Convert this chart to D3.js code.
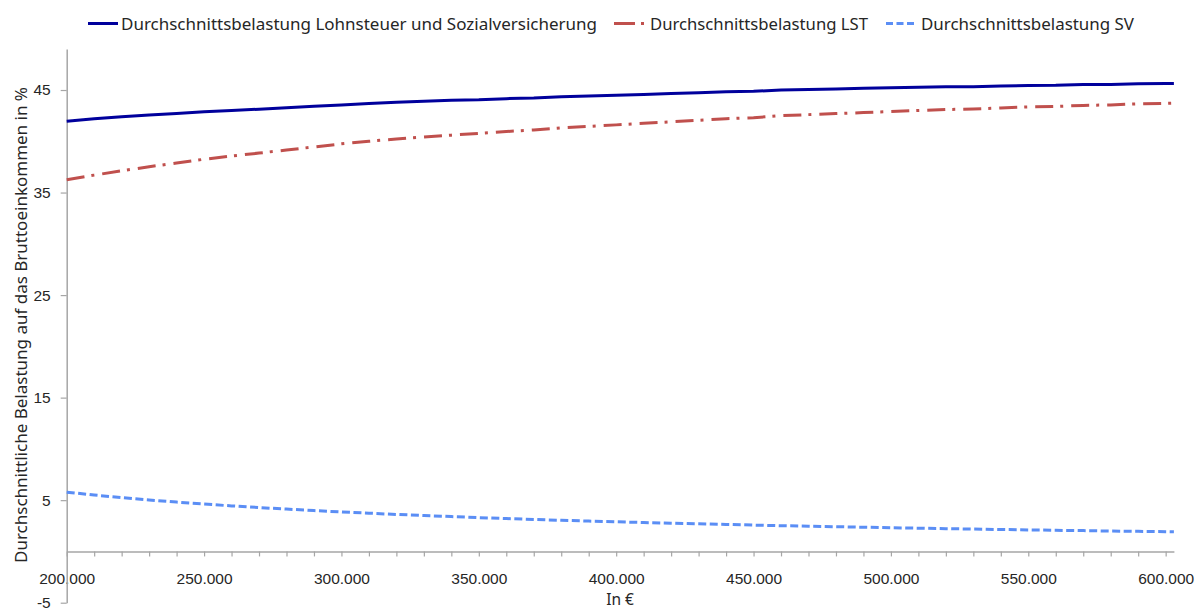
<!DOCTYPE html>
<html>
<head>
<meta charset="utf-8">
<script src="https://cdn.jsdelivr.net/npm/d3@7"></script>
<style>
  html, body { margin: 0; padding: 0; background: #fff; }
  svg { display: block; font-family: "Noto Sans", "DejaVu Sans", sans-serif; }
</style>
</head>
<body>
<svg id="chart" width="1200" height="609"></svg>
<script>
// Gross income (EUR)
const incomes = [200000, 210000, 220000, 230000, 240000, 250000, 260000, 270000, 280000, 290000,
  300000, 310000, 320000, 330000, 340000, 350000, 360000, 370000, 380000, 390000,
  400000, 410000, 420000, 430000, 440000, 450000, 460000, 470000, 480000, 490000,
  500000, 510000, 520000, 530000, 540000, 550000, 560000, 570000, 580000, 590000,
  600000, 603000];

// Average burden, wage tax plus social insurance (%)
const totalBurden = [41.95, 42.20, 42.40, 42.57, 42.71, 42.87, 43.00, 43.13, 43.28, 43.42,
  43.55, 43.68, 43.81, 43.90, 44.00, 44.05, 44.16, 44.22, 44.34, 44.41,
  44.49, 44.57, 44.65, 44.74, 44.83, 44.87, 45.01, 45.06, 45.11, 45.16,
  45.21, 45.27, 45.32, 45.33, 45.39, 45.45, 45.46, 45.53, 45.54, 45.61,
  45.63, 45.64];

// Average burden, wage tax only (%)
const lstBurden = [36.25, 36.70, 37.12, 37.52, 37.88, 38.25, 38.56, 38.85, 39.15, 39.45,
  39.75, 40.00, 40.22, 40.42, 40.60, 40.77, 40.95, 41.10, 41.30, 41.45,
  41.60, 41.75, 41.90, 42.05, 42.20, 42.30, 42.50, 42.60, 42.70, 42.80,
  42.90, 43.00, 43.10, 43.15, 43.25, 43.35, 43.40, 43.50, 43.55, 43.65,
  43.70, 43.72];

// Average burden, social insurance only (%)
const svBurden = [5.78, 5.50, 5.25, 5.02, 4.81, 4.62, 4.44, 4.28, 4.13, 3.98,
  3.85, 3.73, 3.61, 3.50, 3.40, 3.30, 3.21, 3.12, 3.04, 2.96,
  2.89, 2.82, 2.75, 2.69, 2.63, 2.57, 2.51, 2.46, 2.41, 2.36,
  2.31, 2.27, 2.22, 2.18, 2.14, 2.10, 2.06, 2.03, 1.99, 1.96,
  1.93, 1.92];

const xTickValues = [200000, 210000, 220000, 230000, 240000, 250000, 260000, 270000, 280000, 290000,
  300000, 310000, 320000, 330000, 340000, 350000, 360000, 370000, 380000, 390000,
  400000, 410000, 420000, 430000, 440000, 450000, 460000, 470000, 480000, 490000,
  500000, 510000, 520000, 530000, 540000, 550000, 560000, 570000, 580000, 590000, 600000];
const xLabelValues = [200000, 250000, 300000, 350000, 400000, 450000, 500000, 550000, 600000];
const yTickValues = [-5, 5, 15, 25, 35, 45];

const seriesNames = [
  "Durchschnittsbelastung Lohnsteuer und Sozialversicherung",
  "Durchschnittsbelastung LST",
  "Durchschnittsbelastung SV"
];

const svg = d3.select("#chart");
const axisColor = "#a6a6a6";
const textColor = "#262626";

const x = d3.scaleLinear().domain([200000, 603000]).range([66.7, 1173.9]);
const y = d3.scaleLinear().domain([-5, 49]).range([602.7, 49]);

const fmt = d3.formatLocale({ decimal: ",", thousands: ".", grouping: [3], currency: ["", "€"], minus: "-" }).format(",.0f");

// Horizontal axis, crossing at 0
const xAxis = d3.axisBottom(x)
  .tickValues(xTickValues)
  .tickSize(5)
  .tickSizeOuter(0)
  .tickPadding(17)
  .tickFormat(d => xLabelValues.includes(d) ? fmt(d) : "");

const gx = svg.append("g")
  .attr("transform", `translate(0,${y(0)})`)
  .call(xAxis);
gx.select(".domain").attr("stroke", axisColor).attr("stroke-width", 1.5);
gx.selectAll(".tick line").attr("stroke", axisColor).attr("stroke-width", 1.2);
gx.selectAll(".tick text").attr("fill", textColor).attr("font-size", 15.5);

// Vertical axis
const yAxis = d3.axisLeft(y)
  .tickValues(yTickValues)
  .tickSize(6)
  .tickSizeOuter(0)
  .tickPadding(10)
  .tickFormat(d => fmt(d));
const gy = svg.append("g")
  .attr("transform", `translate(${x(200000)},0)`)
  .call(yAxis);
gy.select(".domain").attr("stroke", axisColor).attr("stroke-width", 1.5);
gy.selectAll(".tick line").attr("stroke", axisColor).attr("stroke-width", 1.2);
gy.selectAll(".tick text").attr("fill", textColor).attr("font-size", 15.5);

// Axis titles
svg.append("text")
  .attr("transform", `translate(27,${325}) rotate(-90)`)
  .attr("text-anchor", "middle")
  .attr("fill", textColor)
  .attr("font-size", 16)
  .attr("textLength", 476)
  .attr("lengthAdjust", "spacingAndGlyphs")
  .text("Durchschnittliche Belastung auf das Bruttoeinkommen in %");

svg.append("text")
  .attr("x", 620)
  .attr("y", 605)
  .attr("text-anchor", "middle")
  .attr("fill", textColor)
  .attr("font-size", 15.5)
  .text("In €");

// Series lines
const series = [
  { name: seriesNames[0], values: totalBurden, color: "#00009c", dash: null },
  { name: seriesNames[1], values: lstBurden, color: "#c0504d", dash: "18,7,3,8" },
  { name: seriesNames[2], values: svBurden, color: "#5b8ef5", dash: "8,3.5" }
];

const line = d3.line()
  .x((d, i) => x(incomes[i]))
  .y(d => y(d));

series.forEach(s => {
  svg.append("path")
    .datum(s.values)
    .attr("fill", "none")
    .attr("stroke", s.color)
    .attr("stroke-width", 3)
    .attr("stroke-dasharray", s.dash)
    .attr("d", line);
});

// Legend
const legendItems = [
  { s: series[0], x1: 88, x2: 118, tx: 121, tw: 476 },
  { s: series[1], x1: 614, x2: 647, tx: 650, tw: 218, dash: "21,6,3,20" },
  { s: series[2], x1: 886, x2: 916, tx: 921, tw: 213, dash: "7,3.5" }
];
legendItems.forEach(it => {
  svg.append("line")
    .attr("x1", it.x1).attr("x2", it.x2)
    .attr("y1", 23.5).attr("y2", 23.5)
    .attr("stroke", it.s.color)
    .attr("stroke-width", 3)
    .attr("stroke-dasharray", it.dash || it.s.dash);
  svg.append("text")
    .attr("x", it.tx)
    .attr("y", 29.5)
    .attr("fill", textColor)
    .attr("font-size", 16.5)
    .attr("textLength", it.tw)
    .attr("lengthAdjust", "spacingAndGlyphs")
    .text(it.s.name);
});
</script>
</body>
</html>
